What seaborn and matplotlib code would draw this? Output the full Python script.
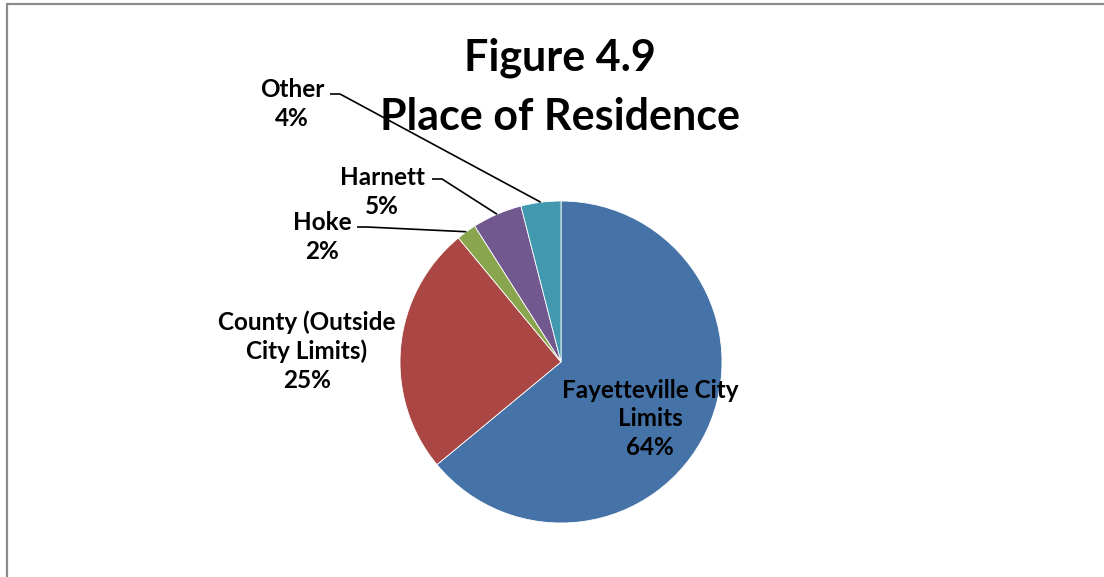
import matplotlib
matplotlib.use("Agg")
import matplotlib.pyplot as plt
import seaborn as sns
import numpy as np
from matplotlib.patches import Rectangle

# Place of residence shares (percent)
categories = ["Fayetteville City\nLimits", "County (Outside\nCity Limits)", "Hoke", "Harnett", "Other"]
shares = [64, 25, 2, 5, 4]
palette = ["#4572A7", "#AA4643", "#89A54E", "#71588F", "#4198AF"]
title_lines = ["Figure 4.9", "Place of Residence"]

sns.set_theme(style="white")
plt.rcParams["font.family"] = ["Lato", "DejaVu Sans"]
plt.rcParams["font.weight"] = "bold"

W, H = 1104, 577
fig = plt.figure(figsize=(W / 100, H / 100), dpi=100)
ax = fig.add_axes([0, 0, 1, 1])


def py(y):
    """Convert a top-down pixel row to the axes' bottom-up coordinate."""
    return H - y


center = (561, py(362))
radius = 161
colors = sns.color_palette(palette)
wedges, _ = ax.pie(
    shares,
    colors=colors,
    startangle=90,
    counterclock=False,
    radius=radius,
    center=center,
    wedgeprops=dict(edgecolor="white", linewidth=0.6),
)
ax.set_xlim(0, W)
ax.set_ylim(0, H)
ax.set_aspect("equal")
ax.axis("off")


def edge_point(w, frac=1.0):
    mid = np.deg2rad((w.theta1 + w.theta2) / 2)
    return center[0] + radius * frac * np.cos(mid), center[1] + radius * frac * np.sin(mid)


label_fs = 17.5
label_pos = {
    0: (650, 419),
    1: (307, 351),
    2: (322, 237),
    3: (382, 192),
    4: (292, 104),
}
for i, (cat, val) in enumerate(zip(categories, shares)):
    x, y = label_pos[i]
    ax.text(x, py(y), f"{cat}\n{val}%", ha="center", va="center",
            multialignment="center", fontsize=label_fs, fontweight="bold",
            color="black", linespacing=1.3)

# leader lines from the small slices to their labels
leaders = {2: (357, 227), 3: (432, 179), 4: (330, 94)}
for i, (lx, ly) in leaders.items():
    ex, ey = edge_point(wedges[i])
    ax.plot([lx, lx + 10, ex], [py(ly), py(ly), ey], color="black", lw=1.2,
            solid_capstyle="butt", zorder=5)

# title
ax.text(560, py(70), title_lines[0], ha="center", va="baseline",
        fontsize=31, fontweight="bold", color="black", zorder=7)
ax.text(560, py(130), title_lines[1], ha="center", va="baseline",
        fontsize=31, fontweight="bold", color="black", zorder=7)

# chart area frame
ax.add_patch(Rectangle((7, -20), W + 20, py(4) + 20, fill=False,
                       edgecolor="#8c8c8c", lw=1.6, zorder=6, clip_on=False))

fig.savefig("out.png", dpi=100)
